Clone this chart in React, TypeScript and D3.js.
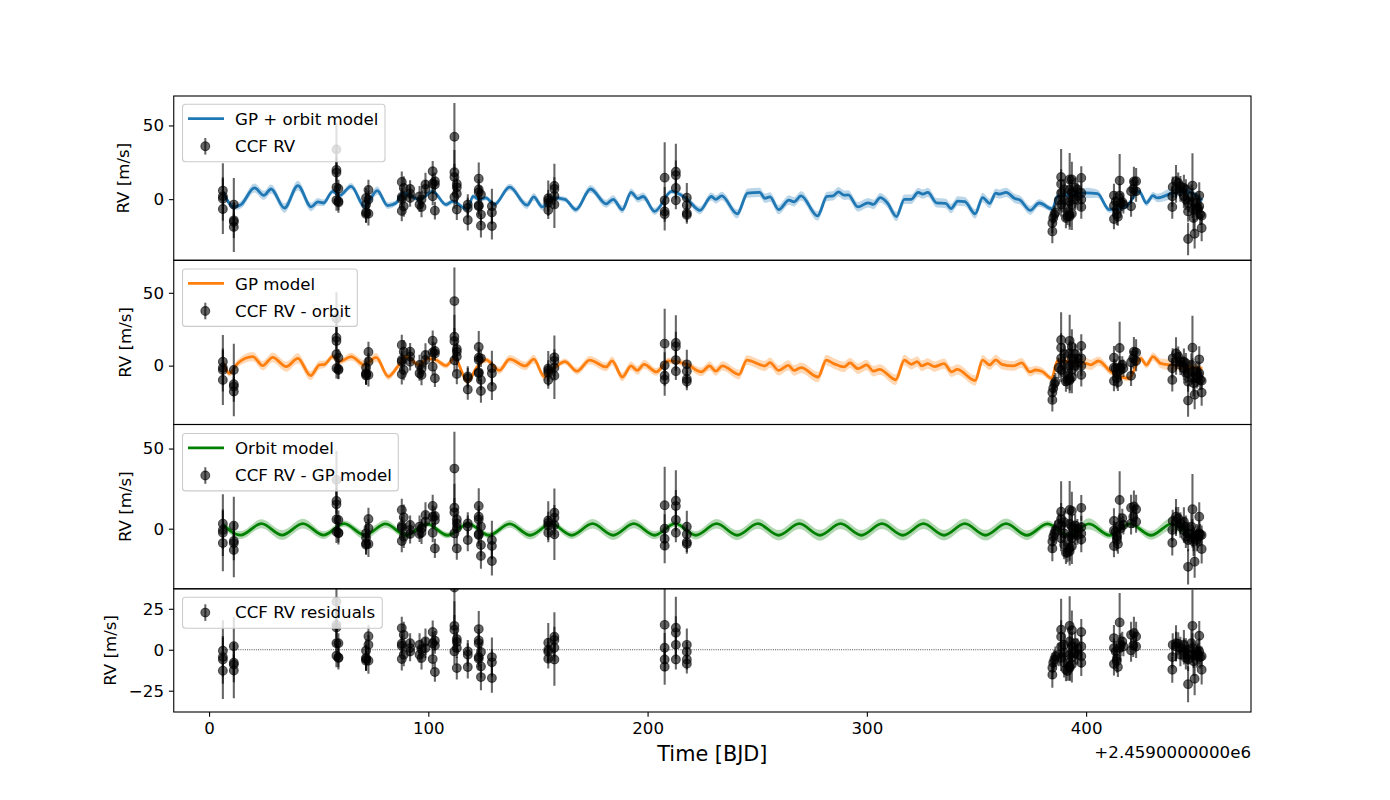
import React, { useEffect, useRef } from 'react';
import * as d3 from 'd3';

// CCF RV points, same order in every array
const rvTime = [
  6.3, 6.3, 6.3, 6.3, 11.3, 11.3, 11.3, 11.3,
  58.1, 58.1, 58.1, 58.1, 58.1, 59, 59, 59,
  71.6, 71.6, 71.6, 71.6, 72.7, 72.7, 72.7,
  87.9, 87.9, 87.9, 87.9, 88.8, 88.8, 91.7, 91.7, 91.7,
  96, 96, 96.9, 96.9, 98.7, 98.7,
  102, 102, 102, 103, 103, 103,
  111.9, 111.9, 111.9, 111.9, 113, 113, 113, 113,
  118, 118, 118,
  123, 123, 123, 123, 123, 124, 124, 124,
  129, 129, 129,
  154.7, 154.7, 154.7, 154.7, 157.5, 157.5, 157.5, 157.5,
  207.8, 207.8, 207.8, 207.8, 212.9, 212.9, 212.9, 212.9, 217.9, 217.9, 217.9, 217.9,
  384.6, 384.6, 385, 385.5, 386, 387.5,
  388.6, 388.6, 388.6, 388.6, 390, 390, 390, 390.8, 391.5,
  392.5, 392.5, 392.5, 392.5, 392.5, 393.5, 393.5, 393.5, 393.5,
  395, 395, 396, 396, 397.8, 397.8, 397.8, 397.8,
  412.7, 412.7, 412.7, 413.5, 414, 414, 414.5, 415.3, 415.3, 415.8, 416.5, 417,
  420.5, 420.5, 421.5, 421.8, 422.8, 422.8,
  439.3, 439.3, 439.5, 441, 441, 442, 443, 443, 444.6, 444.6, 445.5, 445.5,
  446.5, 446.5, 446.5, 448, 448.5, 448.5, 449, 449, 449.5, 450.5, 450.5, 451,
  451.6, 451.6, 452, 452.7, 452.7,
];
const rvError = [
  9, 12, 24, 8, 18, 12, 6, 17,
  18, 8, 12, 10, 7, 6, 6, 7,
  7, 8, 7, 6, 7, 6, 8,
  7, 6, 6, 7, 8, 7, 6, 5, 6,
  7, 5, 6, 7, 8, 6,
  7, 7, 6, 6, 5, 6,
  23, 15, 9, 8, 7, 6, 7, 6,
  7, 7, 7,
  11, 7, 6, 6, 7, 6, 7, 8,
  12, 8, 9,
  12, 7, 6, 6, 15, 8, 6, 16,
  24, 9, 7, 11, 19, 10, 7, 6, 10, 6, 6, 6,
  8, 7, 6, 6, 6, 7,
  19, 10, 7, 8, 7, 8, 9, 7, 6,
  18, 9, 6, 8, 9, 12, 9, 8, 11,
  7, 7, 6, 6, 8, 7, 7, 8,
  8, 6, 7, 6, 6, 7, 6, 18, 8, 7, 6, 6,
  8, 7, 7, 10, 9, 7,
  8, 7, 7, 11, 9, 7, 7, 7, 9, 8, 7, 7,
  6, 7, 11, 8, 22, 9, 8, 9, 10, 7, 7, 7,
  9, 8, 7, 6, 9,
];
const rvTotal = [
  5.8, 1.9, 0.3, -6.7, -3.7, -14.4, -15.5, -18.9,
  33.7, 19.8, 18, 8, -0.8, 7.1, -1.5, -2.2,
  0.8, -3.7, -9, -10, 6.2, -0.3, -9.9,
  11.7, 1.5, 0.1, -8, 7.6, -4.9, 6.9, 3.7, 0.8,
  1.9, -3.7, -0.3, -5.3, 9.9, 6.9,
  18.9, 10.5, 1.9, 12.1, 9.9, -7.8,
  42.3, 18.3, 15, 1.5, 10.3, 8, -7.1, 3.7,
  -3.7, -6, -14.2,
  13.9, 6.5, 4.6, -4.2, -4.9, 3.1, -10.5, -18,
  -4.9, -9, -18.3,
  0.6, -0.8, -2.5, -7.4, 9, 6.9, 2.2, -3.6,
  14.6, -0.8, -8.3, -10.2, 18.6, 16.3, 7.6, -0.8, 1, -4.1, -9.5, -10.7,
  -21.9, -16.2, -12.8, -10.5, -9, -0.8,
  15, 10.3, 4.2, -3.7, 6.5, -0.3, -6, -12.8, -11.5,
  13.3, 6.5, -1.5, -10.5, -11.7, 13.3, 4.2, -3.7, -9.9,
  7.6, -0.3, 6.5, 2, 14.4, 4.2, -0.3, -5.3,
  2.4, -4.4, -13.5, -1.5, -7, -10.5, -12, 12.6, 2.4, -2.6, -2, -3.7,
  5.3, -4.9, 6.9, 12, 12.1, 5.3,
  -5.3, 1.9, 8.3, 12.1, 6.5, 11, 8.7, 5.3, 7.6, 1.9, 6.5, -0.3,
  -2.6, -8.3, -27, 1.9, 9.2, -1.5, -7, -12.8, -23.5, -2.6, -7, -6,
  2.4, -4.9, -10.5, -11.2, -19.6,
];
const rvMinusOrbit = [
  2.7, -1.4, -3, -9.8, -3, -12.8, -14.4, -17.8,
  32.4, 19.2, 16.9, 7.8, -1.8, 5.5, -3, -2.3,
  -1.4, -5.3, -5.9, -6.8, 9.4, 2.7, -6.4,
  14.2, 3.9, 2.7, -5.9, 9.6, -3, 9.6, 6.2, 2.7,
  0.5, -5.3, -2.3, -6.4, 7.3, 3.9,
  17.1, 9.1, -0.7, 10, 8.4, -8.7,
  44.3, 19.9, 16.9, 3.7, 11.4, 9.6, -5.7, 6.2,
  -7.5, -8.7, -16.4,
  12.8, 5.5, 3.9, -4.6, -5.3, 5, -9.8, -17.4,
  -1.8, -5.3, -14.6,
  -1.9, -3.3, -5, -9.9, 5.7, 3.3, -1.4, -6.9,
  15.1, 0.2, -6.9, -9.7, 15.6, 13.2, 3.8, -3.8, 0.9, -3.8, -9.2, -10.9,
  -23.5, -18.5, -15.5, -12.5, -11, -1.5,
  17.6, 12.3, 5, -3, 8, 1, -5, -10.9, -10,
  17, 8.5, 0, -9, -10, 13, 5, -3, -8,
  8, 0, 5, 2, 13.5, 5, 0, -6.4,
  5.5, -1.4, -10.5, -1.8, -5.3, -8.7, -11.4, 12.1, -1.4, -3, 0.5, -1.8,
  2.3, -7, 5, 9.6, 9.1, 3.2,
  -9.8, -1.8, 5, 8.4, 2.7, 6.2, 2.7, 0.5, 2.7, -1.8, 1.6, -5,
  -5.3, -11, -24, 0.5, 12.3, -4, -8.7, -12, -20, -4, -8.7, -7.5,
  4.3, -5.3, -9.8, -10.3, -18.5,
];
const rvMinusGp = [
  3.1, -0.8, -2.5, -9, 1.9, -7.7, -9, -13.3,
  30.4, 17.3, 15.2, 5.8, -1.9, 5.4, -2.5, -2.9,
  -2.9, -5.6, -9.2, -10, 6, 0.2, -9.6,
  11.7, 1.7, 0.6, -7.7, 7.1, -5, 2.3, -0.8, -3.3,
  1.3, -3.3, 0.2, -2.5, 8.5, 4.4,
  14.2, 7.5, -2.5, 7.9, 5.4, -12.3,
  37.5, 13.1, 10.2, -2.9, 5.8, 3.3, -12.3, 0.2,
  3.3, 1.3, -7.1,
  14.2, 7.5, 5.8, -3.3, -4, 1.3, -10.2, -17,
  -7.1, -10.8, -20.2,
  5.1, 3.6, 1.9, -2.5, 10, 6.8, 2.3, -3.5,
  14.6, 0, -6.3, -10.6, 17.4, 14.1, 5.5, -2.5, 1.2, -3.5, -8.5, -9.6,
  -12.3, -8, -5, -3, -1, 3,
  10.6, 6, 2, -6, 4, -3, -10, -15, -15,
  11.7, 3, -5, -12, -14, 11, 1, -6, -11,
  2, -3, 0, -4, 13, 1, -3, -6.7,
  4.8, -1.2, -10.8, -1.9, -5, -7, -9.6, 17.9, 1.7, 0.2, 6.5, 2.3,
  13.1, 3.3, 7.5, 13.8, 12.1, 4.4,
  -8.8, -0.8, 4.8, 7.5, 4.4, 6.5, 3.3, 1.3, 4.4, -0.8, 1.3, -5,
  -2.9, -7.1, -23.8, 1.3, 12.1, -2.9, -6, -8, -20.6, -4, -7, -5,
  7.5, -2.9, -4, -4, -12.7,
];
const rvResidual = [
  -0.6, -4.5, -6, -12.8, 2.2, -7.9, -9, -12.6,
  29.3, 15.2, 13.6, 4, -3.7, 4, -4.7, -5,
  -0.6, -5, -5.7, -6.7, 8.3, 3, -6.7,
  13.2, 3.7, 2.4, -5.7, 9.1, -3, 4, 1, -1,
  3, -3, 0.4, -5, 5, 1,
  10.8, 4, -5.7, 5.5, 2.6, -13.6,
  38, 14.6, 12.2, -1, 6.5, 4.7, -11.2, 1,
  -1, -3, -10.6,
  12.6, 5.7, 4, -4.5, -5.5, -1.4, -10.2, -16.7,
  -4.5, -7.7, -17.3,
  4.3, 0, -1.2, -5.5, 7.9, 6, 1.2, -6,
  15.2, 1.2, -6, -10.4, 13.4, 10.4, 3, -6, 3, -1.2, -6, -8.5,
  -15.2, -11, -8, -6, -4, -3,
  12.2, 8, 2, -5, 3, -2, -8, -12.2, -13,
  14.6, 5, -3, -11, -10, 12, 2, -5, -9,
  4, -2, 1, -3, 10.8, 2, -4, -8,
  7.1, 1, -8.7, -1, -5.5, -7, -10.6, 16.7, 1, 3, 5, 2,
  9.1, -0.4, 2.6, 10.2, 8.1, 2,
  -12.2, -4.5, 3, 4, 2, 3.7, 1, -3, 3, -1, 0, -5,
  -3, -6, -21, 4, 14.6, 1, -3, -7, -17.7, -1, -4, -3,
  8.5, -1, -4.5, -4, -12.2,
];

// model curves: turning points
const blueT = [
  6.3, 11.3, 14.6, 20.7, 25, 28.3, 34.4, 40.5, 46.6, 49.6, 52.2, 56.4, 59.5, 64.8, 70.9, 76.7, 81.5, 85.3, 88.4, 92.2,
  96, 102, 108.1, 111.1, 118, 120.3, 123.3, 126.3, 130.1, 137.1, 145, 148.1, 152, 156.5, 162.3, 167.3, 174, 181.1, 184.3, 188.5,
  192.5, 195.6, 198, 203.2, 211, 218.1, 223.9, 229.1, 231.1, 233.8, 240.9, 245.6, 251.1, 253.5, 255.8, 259.8, 264.5, 266.8, 270, 277.5,
  281.8, 284.6, 287, 289.6, 291.5, 295.9, 300.6, 303, 306.1, 309.3, 313.5, 317.1, 320.3, 323.4, 325.5, 327.8, 331.8, 336, 338.4, 341.5,
  344.7, 349.4, 352.8, 356, 358.8, 360.4, 363.5, 367.5, 369.8, 374.5, 378.6, 384.6, 386.9, 393, 399.8, 405.2, 410.5, 418, 424.2, 427.5,
  430.5, 432.5, 438.6, 445, 453,
];
const blueV = [
  5.3, -5.3, -3.7, 7.6, 2.6, 6.9, -6, 9.2, -5.3, -1.9, -2.6, 5.3, 2.4, 8.7, -4.9, 5.8, -4.4, -2.6, 4.2, 1.9,
  -0.3, 5.3, -3.7, -1.5, -7.1, 1.9, -0.3, 0.8, -3.7, 8.1, -4.1, 1.5, -5.3, 0.8, -0.1, -7.1, 6.9, -3.2, -0.1, -7.1,
  4.6, 0.4, 1.8, -8.3, 5.3, -0.1, -7.6, 1.8, -0.1, 2.2, -10, 4.1, 4.6, 0.6, 1.5, -7.1, -0.6, -1.8, 2.2, -11.4,
  1.8, 2.2, 5, 2.7, 2.9, -5.3, -2.5, -3.6, 1, -2.5, -11.8, -0.1, -0.1, 4.6, 3.4, 4.6, -2.5, -2.9, -6.4, -1.3,
  -1.7, -10, 1.1, -2.9, 4.1, 3.4, 4.6, 0.4, -0.6, -7.6, -2.6, -6.7, 1.9, 3, 4.2, 3.7, -7.1, -5.3, 5.3, -2.6,
  2.4, 0.8, 3.7, 5.5, -1,
];
const orangeT = [
  6.3, 9.3, 13.1, 20, 24.5, 29, 35.2, 40.5, 46.3, 50.4, 52.7, 56.4, 59.5, 64.8, 70.9, 76.2, 81.8, 86, 89.8, 95.9,
  99.7, 103.5, 108.1, 111.9, 118, 121.8, 126.3, 132.4, 137.1, 144.2, 148.1, 152.8, 157.6, 162.3, 167.8, 173.6, 181.1, 183.8, 188.5, 192.5,
  195.3, 198.4, 204, 209.4, 218.1, 224.4, 228.3, 231.1, 234.1, 241.7, 245.3, 253.5, 255.8, 259.8, 264.2, 266.8, 270, 277.8, 281.5, 284.9,
  289.6, 292.3, 295.9, 299.9, 303, 305.8, 313.2, 317.1, 320.3, 323, 325, 327.8, 330.8, 335.2, 338.7, 341.2, 349.4, 352.8, 356, 358.8,
  361.6, 366.7, 370.6, 374.5, 376.9, 380, 384.3, 386.9, 399.8, 402.1, 405.6, 411.2, 419.6, 424.9, 427.5, 430.5, 434, 438.6, 453,
];
const orangeV = [
  2.7, -5.3, 1.6, 6.2, 0, 5.7, -0.7, 5, -6.8, 0.5, 0.9, 6.2, 2.7, 6.2, 0.5, 5.7, -7.5, -0.7, 6.2, 0.5,
  5, 3.9, 0, 5, -11, -1.8, 3.9, -3.3, 4.5, -0.2, 4.5, -7.3, -1.4, 2.8, -3.8, 3.8, -0.9, 3.3, -7.8, -0.2,
  -3.3, 0.9, -4.3, 3.3, 0.9, -4.3, -0.2, -3.8, -0.2, -6.1, 3.8, -0.2, 2.1, -3.3, 0.2, -3.3, -1.4, -7.8, 3.8, 1.4,
  -0.9, 1.9, -2.1, 0.5, -3.8, -2.6, -9.7, 3.8, 0.9, 2.8, -0.2, 1.4, -0.7, 1.4, -4.3, -2.6, -10.2, 3.8, 0.5, 4,
  0.9, -0.2, 1.9, -4.3, -3, -4, -8.7, 3.2, 1.6, 0.5, 3.2, -4.1, -8.7, 5, 0.5, 6.2, 1.6, 0.5, -2,
];
const greenT = [
  6, 14.4, 23.9, 33.3, 42.8, 52.2, 61.6, 71, 80.5, 89.9, 99.4, 108.8, 118.2, 127.7, 137.1, 146.5, 156, 165.4, 174.9, 184.3,
  193.7, 203.2, 212.6, 222, 231.5, 240.9, 250.3, 259.8, 269.2, 278.6, 288, 297.5, 306.9, 316.4, 325.8, 335.2, 344.7, 354.1, 363.5, 373,
  382.4, 391.8, 401.3, 410.7, 420.1, 429.6, 439, 448.5, 453,
];
const greenV = [
  3, -4, 3.1, -4, 3.2, -4, 3.2, -4, 3, -4.1, 3, -4.1, 3, -4.1, 3, -4.1, 3.1, -4.1, 3.1, -4.1,
  3.1, -4.1, 3.1, -4.1, 3.1, -4.1, 3.1, -4.1, 3.1, -4.1, 3.1, -4.1, 3.1, -4.1, 3.1, -4.1, 3.1, -4.1, 3.1, -4.1,
  3, -4.1, 3, -4.1, 3, -4.1, 3, -4.1, -1.5,
];

// half width of the shaded bands
const bandT = [6, 12, 20, 40, 50, 58, 65, 75, 85, 100, 112, 125, 135, 150, 158, 175, 200, 212, 225, 250, 280, 300, 330, 360, 375, 384, 392, 400, 408, 415, 422, 430, 438, 453];
const blueBand = [1.6, 2.2, 3, 3.3, 2.6, 1.5, 2.2, 3, 1.8, 1.5, 1.8, 1.5, 2.2, 2.7, 1.5, 2.7, 2.7, 1.5, 2.7, 3.2, 3.2, 3.2, 3.2, 3.2, 3, 1.8, 1.5, 3.6, 2.2, 1.8, 1.8, 2.4, 3.8, 1.5];
const orangeBand = [1.8, 2.4, 3.2, 3.5, 3, 1.8, 2.7, 3.2, 2, 1.8, 2, 1.8, 2.7, 3, 1.8, 3, 3, 1.8, 3, 3.5, 3.6, 3.6, 3.6, 3.5, 3.2, 2, 1.8, 3.8, 2.7, 2, 2, 2.7, 3.8, 1.8];
const greenBand = [1.8, 2.4, 2.7, 3.2, 2.7, 1.5, 2.4, 3, 2, 1.7, 2, 1.7, 2.4, 2.8, 1.8, 3, 2.7, 1.8, 2.8, 3.2, 3.4, 3.2, 3.3, 3.3, 3, 2, 1.7, 3.8, 2.4, 1.8, 1.8, 2.8, 3.9, 1.8];

const xTicks = [0, 100, 200, 300, 400];

const FONT = '"DejaVu Sans", sans-serif';

const panels = [
  { top: 96, bottom: 260.3, domain: [-41.5, 70], ticks: [0, 50], values: rvTotal, labelX: 129, legendRight: 385, legendTop: 104.3, legendH: 57.4,
    model: { t: blueT, v: blueV, band: blueBand, color: '#1f77b4', label: 'GP + orbit model' }, points: 'CCF RV' },
  { top: 260.3, bottom: 424.5, domain: [-40.4, 72.3], ticks: [0, 50], values: rvMinusOrbit, labelX: 131, legendRight: 357.3, legendTop: 269, legendH: 57.4,
    model: { t: orangeT, v: orangeV, band: orangeBand, color: '#ff7f0e', label: 'GP model' }, points: 'CCF RV - orbit' },
  { top: 424.5, bottom: 588.8, domain: [-37.5, 65], ticks: [0, 50], values: rvMinusGp, labelX: 131, legendRight: 398.3, legendTop: 433.5, legendH: 57.4,
    model: { t: greenT, v: greenV, band: greenBand, color: 'green', label: 'Orbit model' }, points: 'CCF RV - GP model' },
  { top: 588.8, bottom: 712, domain: [-38, 37.2], ticks: [-25, 0, 25], values: rvResidual, labelX: 116, legendRight: 382.3, legendTop: 597.3, legendH: 31,
    model: null, points: 'CCF RV residuals' },
];

export default function App() {
  const svgRef = useRef<SVGSVGElement>(null);

  useEffect(() => {
    if (!svgRef.current) return;
    const svg = d3.select(svgRef.current);
    svg.selectAll('*').remove();

    const left = 173.75;
    const right = 1251;
    const x = d3.scaleLinear().domain([-16.1, 475.2]).range([left, right]);
    const bandScale = (range: number[]) => d3.scaleLinear().domain(bandT).range(range);

    panels.forEach((p, i) => {
      const y = d3.scaleLinear().domain(p.domain).range([p.bottom, p.top]);
      const g = svg.append('g');
      const clipId = `clip-${i}`;
      svg.append('clipPath').attr('id', clipId).append('rect')
        .attr('x', left).attr('y', p.top).attr('width', right - left).attr('height', p.bottom - p.top);
      const plot = g.append('g').attr('clip-path', `url(#${clipId})`);

      if (p.model) {
        const m = p.model;
        const w = bandScale(m.band);
        const idx = d3.range(m.t.length);
        const area = d3.area<number>().x(k => x(m.t[k])).y0(k => y(m.v[k] - w(m.t[k]))).y1(k => y(m.v[k] + w(m.t[k]))).curve(d3.curveMonotoneX);
        plot.append('path').datum(idx).attr('fill', m.color).attr('opacity', 0.3).attr('d', area);
        const line = d3.line<number>().x(k => x(m.t[k])).y(k => y(m.v[k])).curve(d3.curveMonotoneX);
        plot.append('path').datum(idx).attr('fill', 'none').attr('stroke', m.color).attr('stroke-width', 2.8).attr('d', line);
      } else {
        plot.append('line').attr('x1', x(6.3)).attr('x2', x(452.7)).attr('y1', y(0)).attr('y2', y(0))
          .attr('stroke', '#000').attr('stroke-width', 0.7).attr('stroke-dasharray', '1,1.2');
      }

      const idx = d3.range(rvTime.length);
      plot.selectAll('line.err').data(idx).enter().append('line').attr('class', 'err')
        .attr('x1', k => x(rvTime[k])).attr('x2', k => x(rvTime[k]))
        .attr('y1', k => y(p.values[k] - rvError[k])).attr('y2', k => y(p.values[k] + rvError[k]))
        .attr('stroke', '#000').attr('stroke-opacity', 0.6).attr('stroke-width', 2.08);
      plot.selectAll('circle.pt').data(idx).enter().append('circle').attr('class', 'pt')
        .attr('cx', k => x(rvTime[k])).attr('cy', k => y(p.values[k])).attr('r', 4.4)
        .attr('fill', '#000').attr('fill-opacity', 0.6).attr('stroke', '#000').attr('stroke-opacity', 0.6).attr('stroke-width', 1.1);

      // y axis
      const axis = g.append('g').attr('transform', `translate(${left},0)`)
        .call(d3.axisLeft(y).tickValues(p.ticks).tickSize(4.86).tickPadding(4.9));
      axis.select('.domain').remove();
      axis.selectAll('line').attr('stroke', '#000').attr('stroke-width', 1.1);
      axis.selectAll('text').attr('fill', '#000').style('font-family', FONT).style('font-size', '16.67px');

      g.append('rect').attr('x', left).attr('y', p.top).attr('width', right - left).attr('height', p.bottom - p.top)
        .attr('fill', 'none').attr('stroke', '#000').attr('stroke-width', 1.1);

      g.append('text').attr('transform', `translate(${p.labelX},${(p.top + p.bottom) / 2}) rotate(-90)`)
        .attr('text-anchor', 'middle').attr('fill', '#000').style('font-family', FONT).style('font-size', '16.67px').text('RV [m/s]');

      // legend
      const lg = g.append('g');
      lg.append('rect').attr('x', 182.5).attr('y', p.legendTop).attr('width', p.legendRight - 182.5).attr('height', p.legendH).attr('rx', 3)
        .attr('fill', '#fff').attr('fill-opacity', 0.8).attr('stroke', '#ccc').attr('stroke-width', 1.1);
      const textAt = (label: string, baseline: number) => lg.append('text').attr('x', 235).attr('y', baseline)
        .attr('fill', '#000').style('font-family', FONT).style('font-size', '16.67px').text(label);
      let rowY = p.legendTop + 15.3;
      if (p.model) {
        lg.append('line').attr('x1', 188).attr('x2', 224).attr('y1', rowY - 1).attr('y2', rowY - 1)
          .attr('stroke', p.model.color).attr('stroke-width', 2.8);
        textAt(p.model.label, rowY + 5.5);
        rowY += 26.7;
      }
      lg.append('line').attr('x1', 205.3).attr('x2', 205.3).attr('y1', rowY - 8.3).attr('y2', rowY + 8.3)
        .attr('stroke', '#000').attr('stroke-opacity', 0.6).attr('stroke-width', 2.08);
      lg.append('circle').attr('cx', 205.3).attr('cy', rowY).attr('r', 4.4)
        .attr('fill', '#000').attr('fill-opacity', 0.6).attr('stroke', '#000').attr('stroke-opacity', 0.6).attr('stroke-width', 1.1);
      textAt(p.points, rowY + 5.5);
    });

    // shared x axis on the last panel
    const bottom = panels[panels.length - 1].bottom;
    const xAxis = svg.append('g').attr('transform', `translate(0,${bottom})`)
      .call(d3.axisBottom(x).tickValues(xTicks).tickFormat(d3.format('d') as any).tickSize(4.86).tickPadding(4.9));
    xAxis.select('.domain').remove();
    xAxis.selectAll('line').attr('stroke', '#000').attr('stroke-width', 1.1);
    xAxis.selectAll('text').attr('fill', '#000').style('font-family', FONT).style('font-size', '16.67px');

    svg.append('text').attr('x', (left + right) / 2).attr('y', 761).attr('text-anchor', 'middle')
      .attr('fill', '#000').style('font-family', FONT).style('font-size', '20.8px').text('Time [BJD]');
    svg.append('text').attr('x', right).attr('y', 758).attr('text-anchor', 'end')
      .attr('fill', '#000').style('font-family', FONT).style('font-size', '16.67px').text('+2.4590000000e6');
  }, []);

  return <svg ref={svgRef} width={1390} height={800} viewBox="0 0 1390 800" style={{ position: 'absolute', left: 0, top: 0, display: 'block', background: '#fff' }} />;
}
